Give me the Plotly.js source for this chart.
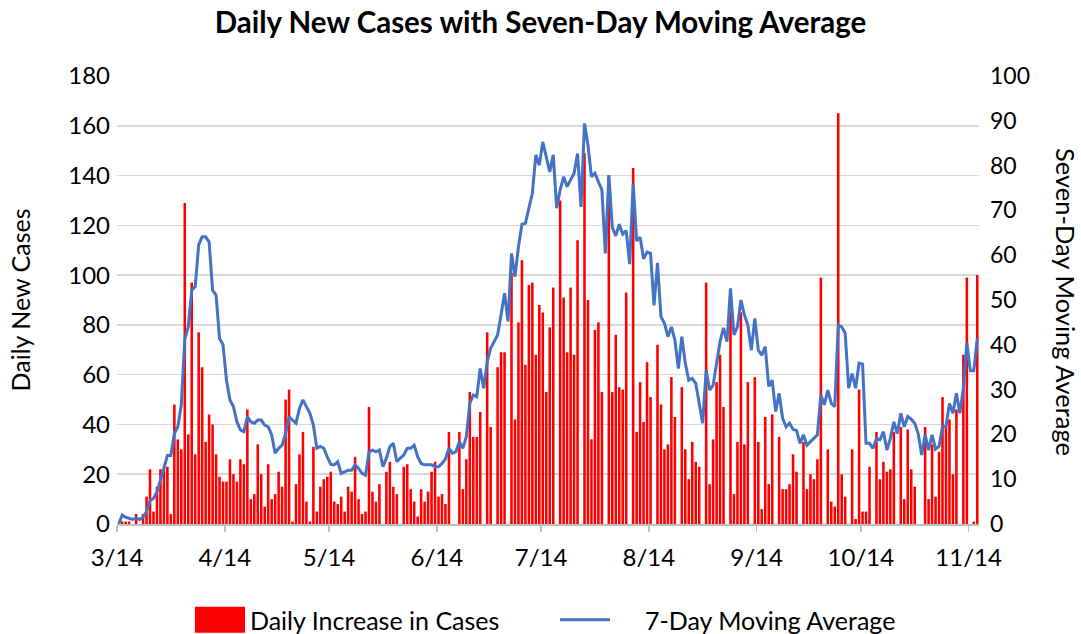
<!DOCTYPE html>
<html>
<head>
<meta charset="utf-8">
<script src="https://cdn.plot.ly/plotly-3.0.1.min.js"></script>
<style>
  html, body { margin: 0; padding: 0; background: #ffffff; }
  #chart { width: 1081px; height: 634px; }
</style>
</head>
<body>
<div id="chart"></div>
<script>
// First day of the series (each value below is one day after the previous one)
const startDate = '2020-03-14';

// Daily new cases (left axis), one value per day from 3/14
const dailyCases = [
  0, 1, 1, 1, 0, 4, 0, 4, 11, 22,
  5, 15, 22, 22, 23, 4, 48, 34, 30, 129,
  36, 97, 28, 77, 63, 33, 44, 40, 28, 19,
  17, 17, 26, 20, 17, 26, 24, 46, 10, 12,
  32, 20, 7, 24, 10, 12, 21, 15, 50, 54,
  1, 16, 28, 37, 9, 1, 31, 5, 15, 18,
  19, 21, 9, 8, 11, 5, 15, 13, 27, 10,
  4, 5, 47, 13, 9, 16, 0, 21, 25, 15,
  12, 0, 23, 24, 14, 9, 3, 14, 9, 13,
  21, 25, 11, 12, 8, 37, 0, 0, 37, 14,
  26, 53, 35, 35, 45, 0, 77, 39, 0, 63,
  69, 69, 0, 101, 42, 81, 106, 64, 96, 97,
  68, 88, 85, 53, 79, 95, 0, 130, 91, 69,
  95, 68, 114, 0, 149, 90, 34, 78, 81, 53,
  0, 140, 53, 76, 55, 54, 93, 0, 143, 37,
  57, 41, 65, 51, 0, 72, 48, 30, 32, 59,
  43, 0, 55, 30, 18, 33, 25, 23, 0, 97,
  16, 34, 57, 68, 47, 0, 85, 12, 33, 85,
  32, 57, 0, 59, 33, 6, 43, 16, 44, 0,
  35, 14, 14, 16, 28, 21, 0, 33, 14, 20,
  18, 26, 99, 0, 30, 9, 7, 165, 20, 11,
  0, 30, 2, 54, 5, 5, 23, 0, 37, 18,
  25, 21, 22, 37, 0, 39, 10, 38, 22, 15,
  0, 0, 39, 10, 32, 11, 29, 51, 39, 42,
  20, 46, 0, 68, 99, 0, 1, 100
];

// Seven-day moving average (right axis)
const movingAverage = [
  0, 2, 1.5, 1.3, 1.0, 1.3, 1.0, 1.5, 2.8, 5.2,
  5.7, 7.2, 9.7, 12.4, 15.3, 15.3, 20.2, 21.7, 26.6, 41.2,
  44, 52.2, 53, 62.3, 64.1, 64.1, 63, 52.2, 51.1, 41.4,
  40, 32.1, 27.7, 26.2, 22.8, 21, 20.6, 24, 22.8, 22.5,
  23.2, 23.2, 22.1, 21.7, 19.9, 15.8, 16.9, 17.6, 20.2, 24,
  23.2, 22.5, 25.8, 27.7, 26.2, 24.7, 22.1, 16.9, 17.3, 16.9,
  15, 13.3, 13.2, 13.9, 11.3, 11.7, 12, 12, 13.2, 12.4,
  11.3, 10.9, 16.1, 16.5, 16.1, 16.5, 12.8, 14.7, 17.3, 18,
  13.9, 14.7, 15.4, 16.9, 16.9, 17.6, 15, 13.5, 13.2, 13.2,
  13.2, 12.8, 12.8, 13.5, 14.5, 16.9, 15.8, 16.1, 18.4, 16.9,
  19.5, 26.9, 28.8, 28.4, 34.7, 30.3, 36.2, 39.2, 40.7, 42.2,
  46.7, 51.5, 45.2, 60.4, 55.2, 61.9, 66.9, 67.1, 70.5, 73.8,
  82.4, 80.1, 85.3, 82, 78.6, 82.4, 70.5, 74.6, 77.5, 75.3,
  76.8, 78.3, 82.7, 70.8, 89.4, 84.6, 77.5, 78.3, 76.4, 74.6,
  60.4, 77.9, 66.2, 64.3, 66.9, 64.7, 65.5, 58, 76, 63.2,
  64, 59.2, 60.7, 60.4, 48.8, 58.3, 46.3, 44.8, 41.8, 44,
  41.1, 34.7, 41.8, 35.9, 32.1, 32.5, 31.4, 26.9, 22.5, 34.4,
  29.9, 31, 36.2, 40.7, 43.8, 40.7, 52.6, 42.2, 44, 50,
  46.7, 44.4, 38.8, 45.9, 38.8, 37.7, 39.6, 30.7, 32.1, 25.1,
  29.2, 23.6, 21.7, 22.5, 21.1, 20.9, 18, 19.9, 17.6, 18.4,
  19.1, 19.9, 28.8, 26.6, 29.9, 26.9, 26.2, 44.4, 44, 42.6,
  30.3, 33.6, 30.3, 35.9, 35.7, 18, 18, 16.9, 19.1, 18.8,
  20.6, 16.5, 19.1, 22.8, 20.2, 24.7, 21.7, 24, 23.4, 22.5,
  20.2, 15.4, 19.9, 16.5, 19.9, 16.7, 17.3, 21.7, 21.7, 26.9,
  24.7, 29.2, 24.7, 30.3, 40.5, 34.2, 34.2, 41.4
];

// X-axis ticks
const tickDates  = ['2020-03-14', '2020-04-14', '2020-05-14', '2020-06-14', '2020-07-14',
                    '2020-08-14', '2020-09-14', '2020-10-14', '2020-11-14'];
const tickLabels = ['3/14', '4/14', '5/14', '6/14', '7/14', '8/14', '9/14', '10/14', '11/14'];

// Build the date for each daily value (bars sit in the middle of their day)
function dayString(i) {
  const d = new Date(startDate + 'T12:00:00Z');
  d.setUTCDate(d.getUTCDate() + i);
  return d.toISOString().slice(0, 10) + ' 12:00';
}
const dates = dailyCases.map((_, i) => dayString(i));

const FONT = 'Lato, "Open Sans", "Liberation Sans", sans-serif';

const traces = [
  {
    type: 'bar',
    name: 'Daily Increase in Cases',
    x: dates,
    y: dailyCases,
    marker: { color: '#ff0000', line: { width: 0 } },
    yaxis: 'y'
  },
  {
    type: 'scatter',
    mode: 'lines',
    name: '7-Day Moving Average',
    x: dates,
    y: movingAverage,
    line: { color: '#4472c4', width: 3 },
    yaxis: 'y2'
  }
];

const layout = {
  width: 1081,
  height: 634,
  paper_bgcolor: '#ffffff',
  plot_bgcolor: '#ffffff',
  margin: { l: 117, r: 102, t: 76, b: 110, autoexpand: false },
  font: { family: FONT, size: 24, color: '#000000' },
  title: {
    text: '<b>Daily New Cases with Seven-Day Moving Average</b>',
    font: { family: FONT, size: 29.5, color: '#000000' },
    x: 0.5, xref: 'container', xanchor: 'center',
    y: 1 - 23 / 634, yref: 'container', yanchor: 'middle'
  },
  bargap: 0.26,
  xaxis: {
    type: 'date',
    range: ['2020-03-14 00:00', '2020-11-17 00:00'],
    tickmode: 'array',
    tickvals: tickDates,
    ticktext: tickLabels,
    ticks: 'outside',
    ticklen: 6,
    tickwidth: 1.5,
    tickcolor: '#bfbfbf',
    ticklabelstandoff: 6,
    showline: true,
    linecolor: '#bfbfbf',
    linewidth: 1.5,
    showgrid: false,
    zeroline: false,
    automargin: false,
    tickfont: { family: FONT, size: 24, color: '#000000' },
    fixedrange: true
  },
  yaxis: {
    range: [0, 180],
    dtick: 20,
    tick0: 0,
    showgrid: true,
    gridcolor: '#d9d9d9',
    gridwidth: 1.5,
    zeroline: false,
    showline: false,
    ticks: '',
    ticklabelstandoff: 6,
    automargin: false,
    tickfont: { family: FONT, size: 24, color: '#000000' },
    title: { text: 'Daily New Cases', font: { family: FONT, size: 25, color: '#000000' }, standoff: 30 },
    fixedrange: true
  },
  yaxis2: {
    overlaying: 'y',
    side: 'right',
    range: [0, 100],
    dtick: 10,
    tick0: 0,
    showgrid: false,
    zeroline: false,
    showline: false,
    ticks: '',
    ticklabelstandoff: 10,
    automargin: false,
    tickfont: { family: FONT, size: 23, color: '#000000' },
    fixedrange: true
  },
  legend: {
    orientation: 'h',
    x: (190 - 117) / 862, xanchor: 'left',
    y: (524 - 620) / 448, yanchor: 'middle',
    font: { family: FONT, size: 25, color: '#000000' },
    itemwidth: 50,
    entrywidth: 330,
    entrywidthmode: 'pixels',
    traceorder: 'normal',
    bgcolor: 'rgba(0,0,0,0)'
  },
  annotations: [
    {
      text: 'Seven-Day Moving Average',
      xref: 'paper', yref: 'paper',
      x: (1066 - 117) / 862, y: (524 - 302) / 448,
      xanchor: 'center', yanchor: 'middle',
      textangle: 90,
      showarrow: false,
      font: { family: FONT, size: 25.5, color: '#000000' }
    }
  ],
  showlegend: true
};

Plotly.newPlot('chart', traces, layout, { displayModeBar: false, staticPlot: true }).then(function (gd) {
  // Enlarge the legend swatches to the wide box / long line used in the original chart
  const items = gd.querySelectorAll('.legend .traces');
  items.forEach(function (item) {
    const txt = item.querySelector('.legendtext');
    if (txt && txt.textContent === 'Daily Increase in Cases') {
      item.querySelectorAll('.legendpoints path').forEach(function (p) {
        p.setAttribute('d', 'M25,13H-25V-13H25Z');
      });
    }
    if (txt && txt.textContent === '7-Day Moving Average') {
      item.querySelectorAll('.legendlines path').forEach(function (p) {
        p.setAttribute('d', 'M-25,0h50');
      });
    }
  });
});
</script>
</body>
</html>
